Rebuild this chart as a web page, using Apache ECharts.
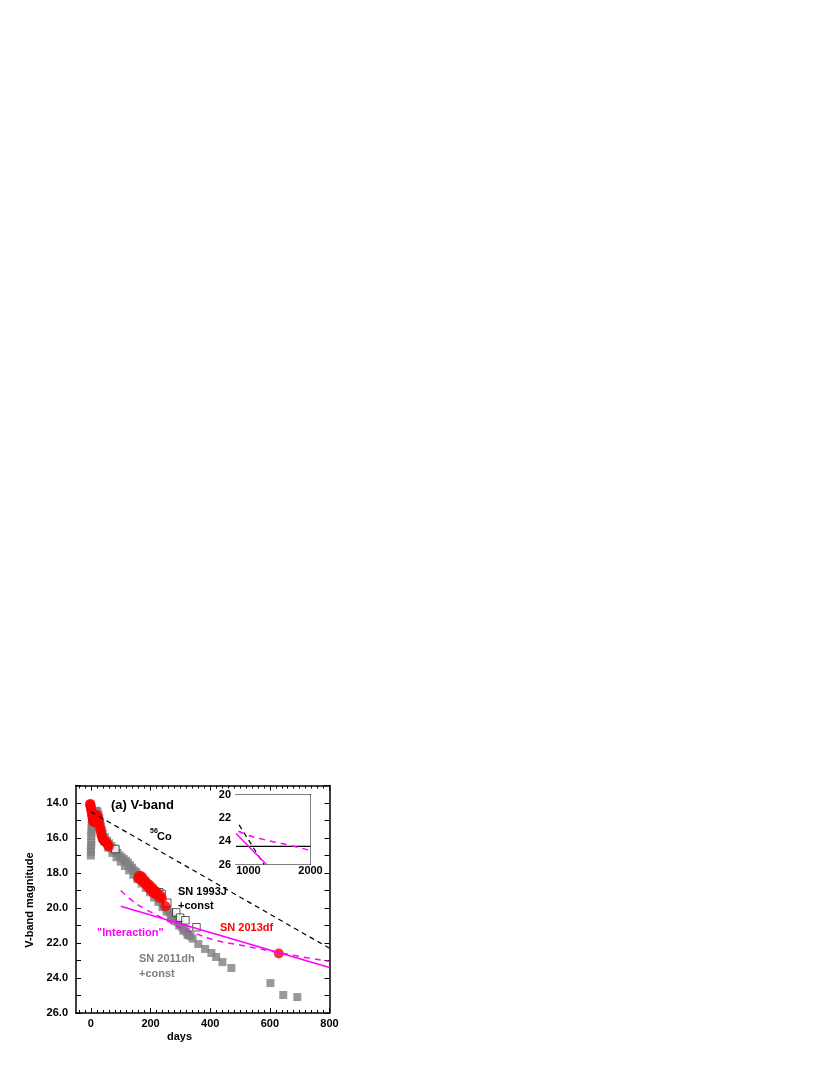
<!DOCTYPE html>
<html>
<head>
<meta charset="utf-8">
<script src="https://cdn.jsdelivr.net/npm/echarts@6/dist/echarts.min.js"></script>
<style>
  html, body { margin: 0; padding: 0; background: #fff; }
  #myChart { width: 830px; height: 1075px; }
</style>
</head>
<body>
<div id="myChart"></div>
<script>
// SN 2013df (red circles)
var sn2013dfDays = [-3, -2, -1, 0, 1, 2, 3, 4, 5, 6, 7, 8, 9, 10, 11, 12, 14, 16, 18, 20, 22, 24, 26, 28, 30, 32, 34, 36, 38, 40, 42, 45, 48, 51, 54, 57, 60,
  158, 162, 166, 170, 174, 178, 182, 186, 190, 194, 198, 202, 206, 210, 214, 218, 222, 226, 230, 234, 238, 250, 630];
var sn2013dfMag = [14.1, 14.05, 14.15, 14.25, 14.35, 14.45, 14.55, 14.65, 14.75, 14.85, 14.95, 15.0, 15.05, 15.1, 15.05, 14.95, 14.85, 14.75, 14.7, 14.7, 14.75, 14.85, 15.0, 15.2, 15.4, 15.55, 15.7, 15.85, 15.95, 16.05, 16.1, 16.15, 16.2, 16.25, 16.3, 16.4, 16.5,
  18.3, 18.15, 18.4, 18.2, 18.3, 18.55, 18.45, 18.7, 18.6, 18.85, 18.7, 19.0, 18.85, 19.15, 19.0, 19.2, 19.1, 19.3, 19.4, 19.3, 19.45, 19.9, 22.6];

// SN 2011dh + const (grey squares)
var sn2011dhDays = [0, 0, 0, 1, 1, 1, 2, 2, 3, 3, 4, 6, 8, 10, 13, 16, 19, 22, 25, 28, 31, 34, 37,
  40, 47, 54, 61, 68, 75, 82, 89, 96, 103, 110, 117, 124, 131, 138, 145, 152, 159, 166, 173, 180, 187, 194, 201, 208, 215, 222, 229, 236, 243, 250, 257, 264, 271, 278, 285, 292, 299, 306, 313, 320, 327, 334, 341,
  44, 58, 72, 86, 100, 114, 128, 142, 156, 170, 184, 198, 212, 226, 240, 254, 268, 282, 296, 310, 324,
  360, 383, 404, 420, 441, 471, 602, 645, 692];
var sn2011dhMag = [17.0, 16.8, 16.6, 16.4, 16.2, 15.9, 15.7, 15.5, 15.3, 15.1, 14.95, 14.8, 14.7, 14.6, 14.5, 14.45, 14.45, 14.5, 14.65, 14.85, 15.1, 15.35, 15.55,
  15.75, 15.95, 16.15, 16.3, 16.45, 16.6, 16.7, 16.85, 17.0, 17.1, 17.2, 17.3, 17.4, 17.55, 17.7, 17.85, 17.95, 18.1, 18.25, 18.4, 18.5, 18.65, 18.8, 18.95, 19.1, 19.25, 19.35, 19.5, 19.65, 19.8, 19.95, 20.1, 20.25, 20.4, 20.55, 20.65, 20.8, 20.95, 21.1, 21.2, 21.35, 21.5, 21.6, 21.75,
  16.2, 16.55, 16.85, 17.1, 17.35, 17.6, 17.85, 18.1, 18.35, 18.6, 18.85, 19.1, 19.4, 19.65, 19.95, 20.2, 20.5, 20.75, 21.0, 21.3, 21.55,
  22.06, 22.34, 22.57, 22.8, 23.09, 23.43, 24.29, 24.97, 25.09];

// SN 1993J + const (open squares)
var sn1993jDays = [82, 229, 237, 256, 286, 299, 317, 354];
var sn1993jMag = [16.63, 19.1, 19.2, 19.7, 20.25, 20.55, 20.7, 21.1];

// model lines
var co56Line = [[0, 14.5], [800, 22.3]];
var interactionLine = [[100, 19.9], [800, 23.4]];
var interactionDashed = [[100, 19.0], [140, 19.6], [175, 20.0], [240, 20.57], [290, 21.05], [350, 21.45], [415, 21.83], [500, 22.12], [600, 22.45], [700, 22.77], [800, 23.05]];

// inset lines
var insetCo56 = [[850, 22.6], [1250, 26.0]];
var insetSolid = [[800, 23.35], [1290, 26.0]];
var insetDashed = [[840, 23.15], [1000, 23.5], [1200, 23.8], [1450, 24.1], [1700, 24.4], [2000, 24.8]];
var insetConst = [[800, 24.45], [2000, 24.45]];

// ticks
var xMajor = [0, 200, 400, 600, 800];
var xMinor = [-40, -20, 20, 40, 60, 80, 100, 120, 140, 160, 180, 220, 240, 260, 280, 300, 320, 340, 360, 380, 420, 440, 460, 480, 500, 520, 540, 560, 580, 620, 640, 660, 680, 700, 720, 740, 760, 780];
var insetXLabels = [1000, 2000];
var insetXTicks = [1000, 1200, 1400, 1600, 1800, 2000];
var insetYTicks = [20, 21, 22, 23, 24, 25, 26];

function pairs(xs, ys) {
  var out = [];
  for (var i = 0; i < xs.length; i++) out.push([xs[i], ys[i]]);
  return out;
}

var FONT = "Liberation Sans";
var lbl = { fontFamily: FONT, fontWeight: "bold", fontSize: 11, color: "#000" };

function xAx(grid, pos, min, max, ticks, len, line, labels, lw) {
  return {
    type: "value", gridIndex: grid, position: pos, min: min, max: max,
    axisLine: { show: line, onZero: false, lineStyle: { color: "#000", width: lw } },
    axisTick: { show: true, inside: true, length: len, customValues: ticks, lineStyle: { color: "#000", width: 1 } },
    axisLabel: labels ? Object.assign({
      show: true, customValues: labels, margin: grid === 0 ? 5 : 1,
      formatter: function (v) { return String(v); }
    }, lbl) : { show: false },
    splitLine: { show: false }
  };
}

var option = {
  animation: false,
  backgroundColor: "#fff",
  grid: [
    { left: 76, top: 785.5, width: 253.5, height: 227.5 },
    { left: 236, top: 794.5, width: 74.5, height: 70, show: true, backgroundColor: "#fff", borderWidth: 0, z: 5 }
  ],
  xAxis: [
    xAx(0, "bottom", -50, 800, xMajor, 5, true, xMajor, 1.5),
    xAx(0, "bottom", -50, 800, xMinor, 3, false, null, 1.5),
    xAx(0, "top", -50, 800, xMajor, 5, true, null, 1.5),
    xAx(0, "top", -50, 800, xMinor, 3, false, null, 1.5),
    xAx(1, "bottom", 800, 2000, insetXTicks, 3, true, insetXLabels, 1),
    xAx(1, "top", 800, 2000, insetXTicks, 3, true, null, 1)
  ],
  yAxis: [
    {
      type: "value", gridIndex: 0, position: "left", inverse: true, min: 13, max: 26, interval: 1,
      axisLine: { show: true, onZero: false, lineStyle: { color: "#000", width: 1.5 } },
      axisTick: { inside: true, length: 5, lineStyle: { color: "#000" } },
      axisLabel: Object.assign({ margin: 8, formatter: function (v) { return v % 2 === 0 ? v.toFixed(1) : ""; } }, lbl),
      splitLine: { show: false }
    },
    {
      type: "value", gridIndex: 0, position: "right", inverse: true, min: 13, max: 26, interval: 1,
      axisLine: { show: true, onZero: false, lineStyle: { color: "#000", width: 1.5 } },
      axisTick: { inside: true, length: 5, lineStyle: { color: "#000" } },
      axisLabel: { show: false },
      splitLine: { show: false }
    },
    {
      type: "value", gridIndex: 1, position: "left", inverse: true, min: 20, max: 26, interval: 2,
      axisLine: { show: true, onZero: false, lineStyle: { color: "#000", width: 1 } },
      axisTick: { inside: true, length: 3, customValues: insetYTicks, lineStyle: { color: "#000" } },
      axisLabel: Object.assign({ margin: 5 }, lbl),
      splitLine: { show: false }
    },
    {
      type: "value", gridIndex: 1, position: "right", inverse: true, min: 20, max: 26, interval: 2,
      axisLine: { show: true, onZero: false, lineStyle: { color: "#000", width: 1 } },
      axisTick: { inside: true, length: 3, customValues: insetYTicks, lineStyle: { color: "#000" } },
      axisLabel: { show: false },
      splitLine: { show: false }
    }
  ],
  series: [
    {
      name: "SN 2011dh", type: "scatter", xAxisIndex: 0, yAxisIndex: 0,
      symbol: "rect", symbolSize: 8, itemStyle: { color: "#808080" },
      data: pairs(sn2011dhDays, sn2011dhMag), z: 2
    },
    {
      name: "SN 1993J", type: "scatter", xAxisIndex: 0, yAxisIndex: 0,
      symbol: "rect", symbolSize: 7.5, itemStyle: { color: "#fff", borderColor: "#000", borderWidth: 0.8 },
      data: pairs(sn1993jDays, sn1993jMag), z: 3
    },
    {
      name: "SN 2013df", type: "scatter", xAxisIndex: 0, yAxisIndex: 0,
      symbol: "circle", symbolSize: 10, itemStyle: { color: "#ff0000" },
      data: pairs(sn2013dfDays, sn2013dfMag), z: 4
    },
    {
      name: "56Co", type: "line", xAxisIndex: 0, yAxisIndex: 0, showSymbol: false, z: 6,
      lineStyle: { color: "#000", width: 1.2, type: [5, 4] }, data: co56Line
    },
    {
      name: "Interaction", type: "line", xAxisIndex: 0, yAxisIndex: 0, showSymbol: false, z: 6,
      lineStyle: { color: "#ff00ff", width: 1.5 }, data: interactionLine
    },
    {
      name: "Interaction dashed", type: "line", xAxisIndex: 0, yAxisIndex: 0, showSymbol: false, smooth: true, z: 6,
      lineStyle: { color: "#ff00ff", width: 1.5, type: [6, 5] }, data: interactionDashed
    },
    {
      type: "line", xAxisIndex: 4, yAxisIndex: 2, showSymbol: false, z: 7,
      lineStyle: { color: "#000", width: 1.2 }, data: insetConst
    },
    {
      type: "line", xAxisIndex: 4, yAxisIndex: 2, showSymbol: false, z: 7,
      lineStyle: { color: "#000", width: 1.2, type: [5, 4] }, data: insetCo56
    },
    {
      type: "line", xAxisIndex: 4, yAxisIndex: 2, showSymbol: false, z: 7,
      lineStyle: { color: "#ff00ff", width: 1.5 }, data: insetSolid
    },
    {
      type: "line", xAxisIndex: 4, yAxisIndex: 2, showSymbol: false, smooth: true, z: 7,
      lineStyle: { color: "#ff00ff", width: 1.5, type: [6, 5] }, data: insetDashed
    }
  ],
  graphic: [
    { type: "text", left: 111, top: 799, z: 10, style: { text: "(a) V-band", fontFamily: FONT, fontWeight: "bold", fontSize: 13, fill: "#000" } },
    { type: "text", left: 150, top: 828, z: 10, style: { text: "56", fontFamily: FONT, fontWeight: "bold", fontSize: 7, fill: "#000" } },
    { type: "text", left: 157, top: 831, z: 10, style: { text: "Co", fontFamily: FONT, fontWeight: "bold", fontSize: 11, fill: "#000" } },
    { type: "text", left: 178, top: 886, z: 10, style: { text: "SN 1993J", fontFamily: FONT, fontWeight: "bold", fontSize: 11, fill: "#000" } },
    { type: "text", left: 178, top: 900, z: 10, style: { text: "+const", fontFamily: FONT, fontWeight: "bold", fontSize: 11, fill: "#000" } },
    { type: "text", left: 220, top: 922, z: 10, style: { text: "SN 2013df", fontFamily: FONT, fontWeight: "bold", fontSize: 11, fill: "#ff0000" } },
    { type: "text", left: 97, top: 927, z: 10, style: { text: "\"Interaction\"", fontFamily: FONT, fontWeight: "bold", fontSize: 11, fill: "#ff00ff" } },
    { type: "text", left: 139, top: 953.5, z: 10, style: { text: "SN 2011dh", fontFamily: FONT, fontWeight: "bold", fontSize: 11, fill: "#808080" } },
    { type: "text", left: 139, top: 968, z: 10, style: { text: "+const", fontFamily: FONT, fontWeight: "bold", fontSize: 11, fill: "#808080" } },
    { type: "text", left: 167, top: 1031, z: 10, style: { text: "days", fontFamily: FONT, fontWeight: "bold", fontSize: 11, fill: "#000" } },
    { type: "text", x: 30, y: 900, rotation: Math.PI / 2, z: 10, style: { text: "V-band magnitude", fontFamily: FONT, fontWeight: "bold", fontSize: 11, fill: "#000", align: "center", verticalAlign: "middle" } }
  ]
};

var myChart = echarts.init(document.getElementById("myChart"));
myChart.setOption(option);
</script>
</body>
</html>
